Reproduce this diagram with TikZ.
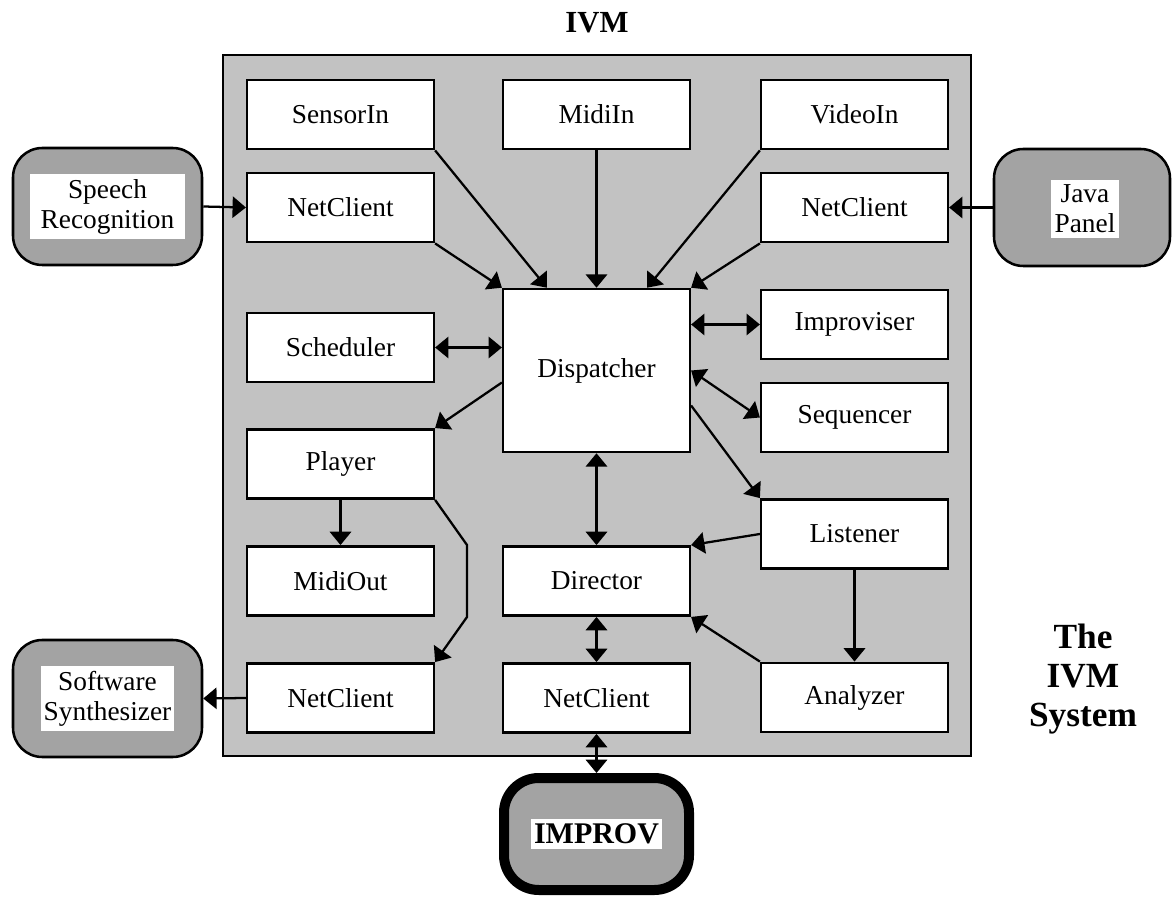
\documentclass[tikz,border=0pt]{standalone}
\usepackage{fontspec}
\setmainfont{Liberation Serif}
\usetikzlibrary{arrows.meta,calc}
\begin{document}
\begin{tikzpicture}[x=0.75pt,y=-0.75pt,
  box/.style={draw, line width=1.9pt, fill=white, minimum width=140pt, minimum height=52pt, inner sep=0pt, font=\fontsize{20.5}{24}\selectfont},
  ext/.style={draw, line width=1.9pt, fill=black!36, rounded corners=22pt, minimum height=87.75pt, inner sep=0pt},
  lbl/.style={fill=white, inner ysep=3.5pt, align=center, font=\fontsize{20.5}{22.5}\selectfont},
  conn/.style={line width=1.7pt, -{Triangle[length=10pt,width=16pt]}},
  bi/.style={line width=1.7pt, {Triangle[length=10pt,width=16pt]}-{Triangle[length=10pt,width=16pt]}},
]
\useasboundingbox (0,0) rectangle (1172,898);

% main IVM box
\node[draw, line width=1.9pt, fill=black!24, minimum width=561pt, minimum height=525.75pt, inner sep=0pt] (ivm) at (597,405.5) {};
\node[anchor=base, font=\bfseries\fontsize{23}{27}\selectfont] (ivmtitle) at (597,33) {IVM};
\node[align=center, font=\bfseries\fontsize{26.5}{29}\selectfont] (systitle) at (1083,679) {The\\IVM\\System};

% inner modules
\node[box] (sensor)   at (340.5,114.5) {SensorIn};
\node[box] (midiin)   at (596.5,114.5) {MidiIn};
\node[box] (videoin)  at (854.5,114.5) {VideoIn};
\node[box] (nc1)      at (340.5,207.5) {NetClient};
\node[box] (nc2)      at (854.5,207.5) {NetClient};
\node[box] (sched)    at (340.5,347.5) {Scheduler};
\node[box, minimum height=122.25pt] (disp) at (596.5,370.5) {Dispatcher};
\node[box] (improviser) at (854.5,324.5) {Improviser};
\node[box] (seq)      at (854.5,417.5) {Sequencer};
\node[box] (player)   at (340.5,464)   {Player};
\node[box] (listener) at (854.5,534)   {Listener};
\node[box] (midiout)  at (340.5,581)   {MidiOut};
\node[box] (director) at (596.5,581)   {Director};
\node[box] (nc3)      at (340.5,698)   {NetClient};
\node[box] (nc4)      at (596.5,698)   {NetClient};
\node[box] (analyzer) at (854.5,697.5) {Analyzer};

% external components
\node[ext, minimum width=141.75pt] (speech) at (107.5,206.5) {};
\node[lbl, inner xsep=8pt] (speechlbl) at (speech.center) {Speech\\Recognition};
\node[ext, minimum width=132pt] (java) at (1082,207.5) {};
\node[lbl, inner xsep=2.5pt] (javalbl) at (1085,209) {Java\\Panel};
\node[ext, minimum width=141.75pt] (synth) at (107.5,698.5) {};
\node[lbl, inner xsep=2pt] (synthlbl) at (synth.center) {Software\\Synthesizer};
\node[draw, line width=7.5pt, fill=black!36, rounded corners=26pt, minimum width=138.75pt, minimum height=84pt, inner sep=0pt] (improv) at (596.5,834) {};
\node[fill=white, inner xsep=2.5pt, inner ysep=4pt, font=\bfseries\fontsize{22.5}{26}\selectfont] (improvlbl) at (improv.center) {IMPROV};

% connectors into the dispatcher
\draw[conn] (sensor.south east) -- ($(disp.north west)+(45,0)$);
\draw[conn] (nc1.south east) -- (disp.north west);
\draw[conn] (midiin.south) -- (disp.north);
\draw[conn] (videoin.south west) -- ($(disp.north east)+(-44,0)$);
\draw[conn] (nc2.south west) -- (disp.north east);

\draw[bi] (sched.east) -- (sched.east -| disp.west);
\draw[bi] (improviser.west -| disp.east) -- (improviser.west);
\draw[bi] (disp.east) -- (seq.west);
\draw[conn] ($(disp.east)+(0,35)$) -- (listener.north west);
\draw[conn] ($(disp.west)+(0,12)$) -- (player.north east);
\draw[bi] (disp.south) -- (director.north);

\coordinate (bend1) at (467,545);
\coordinate (bend2) at (467,617);
\draw[conn] (player.south) -- (midiout.north);
\draw[conn] (player.south east) -- (bend1) -- (bend2) -- (nc3.north east);

\draw[conn] (listener.west) -- (director.north east);
\draw[conn] (listener.south) -- (analyzer.north);
\draw[conn] (analyzer.north west) -- (director.south east);
\draw[bi] (director.south) -- (nc4.north);
\draw[bi] (nc4.south) -- (improv.north);

\draw[conn] (speech.east) -- (nc1.west);
\draw[conn] (java.west) -- (nc2.east);
\draw[conn] (nc3.west) -- (synth.east);
\end{tikzpicture}
\end{document}
